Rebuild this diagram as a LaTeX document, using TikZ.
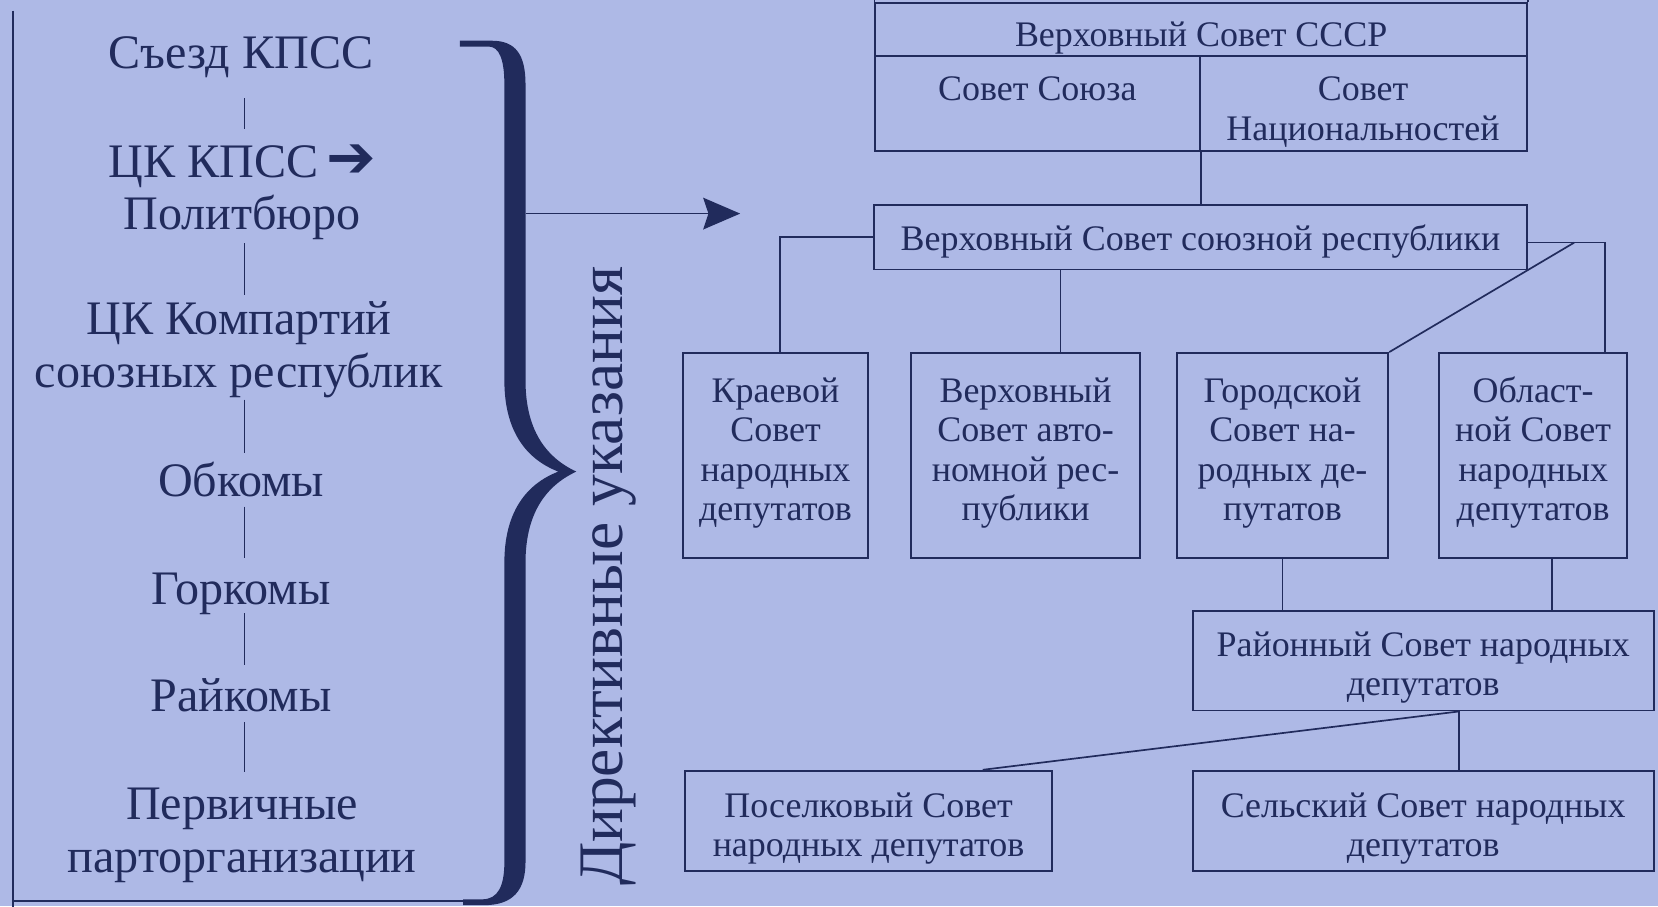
\documentclass[tikz,border=0pt]{standalone}
\usepackage{fontspec}
\setmainfont{Liberation Serif}
\newfontfamily\DVSarrowfont{DejaVu Sans}
\usetikzlibrary{arrows.meta}
\definecolor{bgc}{RGB}{174,185,230}
\definecolor{ink}{RGB}{33,43,92}
\begin{document}
\begin{tikzpicture}[x=1pt,y=-1pt,
  lefttext/.style={font=\fontsize{45.5}{50}\selectfont, text=ink, inner sep=0pt, align=center, anchor=base},
  boxtext/.style={font=\fontsize{34}{37}\selectfont, text=ink, inner sep=0pt, align=center},
  orgbox/.style={draw=ink, line width=1.8pt, boxtext, anchor=north west},
  cellbox/.style={draw=ink, line width=1.8pt, inner sep=0pt, anchor=north west},
  celltext/.style={boxtext, anchor=base},
  vline/.style={draw=ink, line width=1.3pt},
  link/.style={draw=ink, line width=1.6pt},
  frameline/.style={draw=ink, line width=1.6pt},
]
\fill[bgc] (0,0) rectangle (1568,857);
\useasboundingbox (0,0) rectangle (1568,857);

% ---------- left column ----------
\node[lefttext] (s1) at (228,64.5) {Съезд КПСС};
\node[lefttext] (s2) at (229,217.5) {ЦК КПСС\,{\DVSarrowfont\fontsize{56}{50}\selectfont ➔}\\Политбюро};
\node[lefttext] (s3) at (226,366) {ЦК Компартий\\союзных республик};
\node[lefttext] (s4) at (228,470) {Обкомы};
\node[lefttext] (s5) at (228,572) {Горкомы};
\node[lefttext] (s6) at (228,673) {Райкомы};
\node[lefttext] (s7) at (229,825) {Первичные\\парторганизации};

\draw[vline] ([xshift=3pt,yshift=-28.5pt]s1.base) -- ([xshift=2pt,yshift=95.5pt]s2.base);
\draw[vline] ([xshift=2pt,yshift=-12.5pt]s2.base) -- ([xshift=5pt,yshift=87pt]s3.base);
\draw[vline] ([xshift=5pt,yshift=-12pt]s3.base) -- ([xshift=3pt,yshift=42pt]s4.base);
\draw[vline] ([xshift=3pt,yshift=-9pt]s4.base) -- ([xshift=3pt,yshift=44pt]s5.base);
\draw[vline] ([xshift=3pt,yshift=-8pt]s5.base) -- ([xshift=3pt,yshift=44pt]s6.base);
\draw[vline] ([xshift=3pt,yshift=-10pt]s6.base) -- ([xshift=2pt,yshift=95pt]s7.base);

% frame
\draw[frameline] (12,10) -- (12,860);
\draw[frameline] (12,852) -- (440,852);

% brace
\fill[ink] (435,38.5) -- (465,38.5)
  .. controls (488,38.5) and (497,52) .. (497,80)
  -- (497,360)
  .. controls (497,405) and (515,432) .. (545,446)
  .. controls (515,460) and (497,487) .. (497,532)
  -- (497,815)
  .. controls (497,842) and (485,856) .. (458,856)
  -- (438,856) -- (438,850.5) -- (456,850.5)
  .. controls (471,850.5) and (477,838) .. (477,815)
  -- (477,532)
  .. controls (477,485) and (497,458) .. (528,446)
  .. controls (497,434) and (477,407) .. (477,360)
  -- (477,80)
  .. controls (477,56) and (472,44) .. (462,44)
  -- (435,44) -- cycle;

\coordinate (braceOut) at (497,202);
\coordinate (arrowEnd) at (700,202);
\draw[link, line width=1.5pt, -{Stealth[length=35pt, width=30pt, inset=5pt]}] (braceOut) -- (arrowEnd);

\node[rotate=90, font=\fontsize{60}{60}\selectfont, text=ink, inner sep=0pt] (directive) at (576,545) {Директивные указания};

% ---------- right side ----------
\node[cellbox, minimum width=616pt, minimum height=50.4pt] (ussr) at (827,1.6) {};
\node[cellbox, minimum width=307pt, minimum height=90pt] (union) at (827,52) {};
\node[cellbox, minimum width=309pt, minimum height=90pt] (nat) at (1134,52) {};
\node[celltext] (ussrT) at (1136,44) {Верховный Совет СССР};
\node[celltext] (unionT) at (981,95) {Совет Союза};
\node[celltext] (natT) at (1289,132.5) {Совет\\Национальностей};

\node[orgbox, minimum width=617pt, minimum height=61pt, text height=25pt, text depth=0pt] (rep) at (826,193) {Верховный Совет союзной республики};

\node[orgbox, minimum width=175pt, minimum height=194pt, text height=134pt, text depth=12pt] (kraev) at (645,333) {Краевой\\Совет\\народных\\депутатов};
\node[orgbox, minimum width=216pt, minimum height=194pt, text height=134pt, text depth=12pt] (avto) at (861,333) {Верховный\\Совет авто-\\номной рес-\\публики};
\node[orgbox, minimum width=200pt, minimum height=194pt, text height=134pt, text depth=12pt] (gor) at (1112,333) {Городской\\Совет на-\\родных де-\\путатов};
\node[orgbox, minimum width=178pt, minimum height=194pt, text height=134pt, text depth=12pt] (obl) at (1360,333) {Област-\\ной Совет\\народных\\депутатов};

\node[orgbox, minimum width=436pt, minimum height=94pt, text height=70pt, text depth=5pt] (rayon) at (1127,577) {Районный Совет народных\\депутатов};
\node[orgbox, minimum width=347pt, minimum height=95pt, text height=73pt, text depth=5pt] (posel) at (647,728) {Поселковый Совет\\народных депутатов};
\node[orgbox, minimum width=436pt, minimum height=95pt, text height=73pt, text depth=5pt] (selsk) at (1127,728) {Сельский Совет народных\\депутатов};

% connectors
\draw[link] (ussr.north west) -- ++(0,-8);
\draw[link] (ussr.north east) -- ++(0,-8);
\draw[link] (union.south east) -- (union.south east |- rep.north);
\draw[link] (rep.west) -| ([xshift=4.5pt]kraev.north);
\coordinate (avtoTop) at ([xshift=33pt]avto.north);
\draw[link] (avtoTop |- rep.south) -- (avtoTop);
\draw[link] ([yshift=-5pt]rep.east) -| ([xshift=68pt]obl.north);
\draw[link] ([xshift=44pt,yshift=-5pt]rep.east) -- (gor.north east);
\draw[link] (gor.south) -- (gor.south |- rayon.north);
\coordinate (oblBot) at ([xshift=18pt]obl.south);
\draw[link] (oblBot) -- (oblBot |- rayon.north);
\coordinate (rayBot) at ([xshift=34pt]rayon.south);
\draw[link] (rayBot) -- (rayBot |- selsk.north);
\draw[link] (rayBot) -- ([xshift=108pt]posel.north);
\end{tikzpicture}
\end{document}
